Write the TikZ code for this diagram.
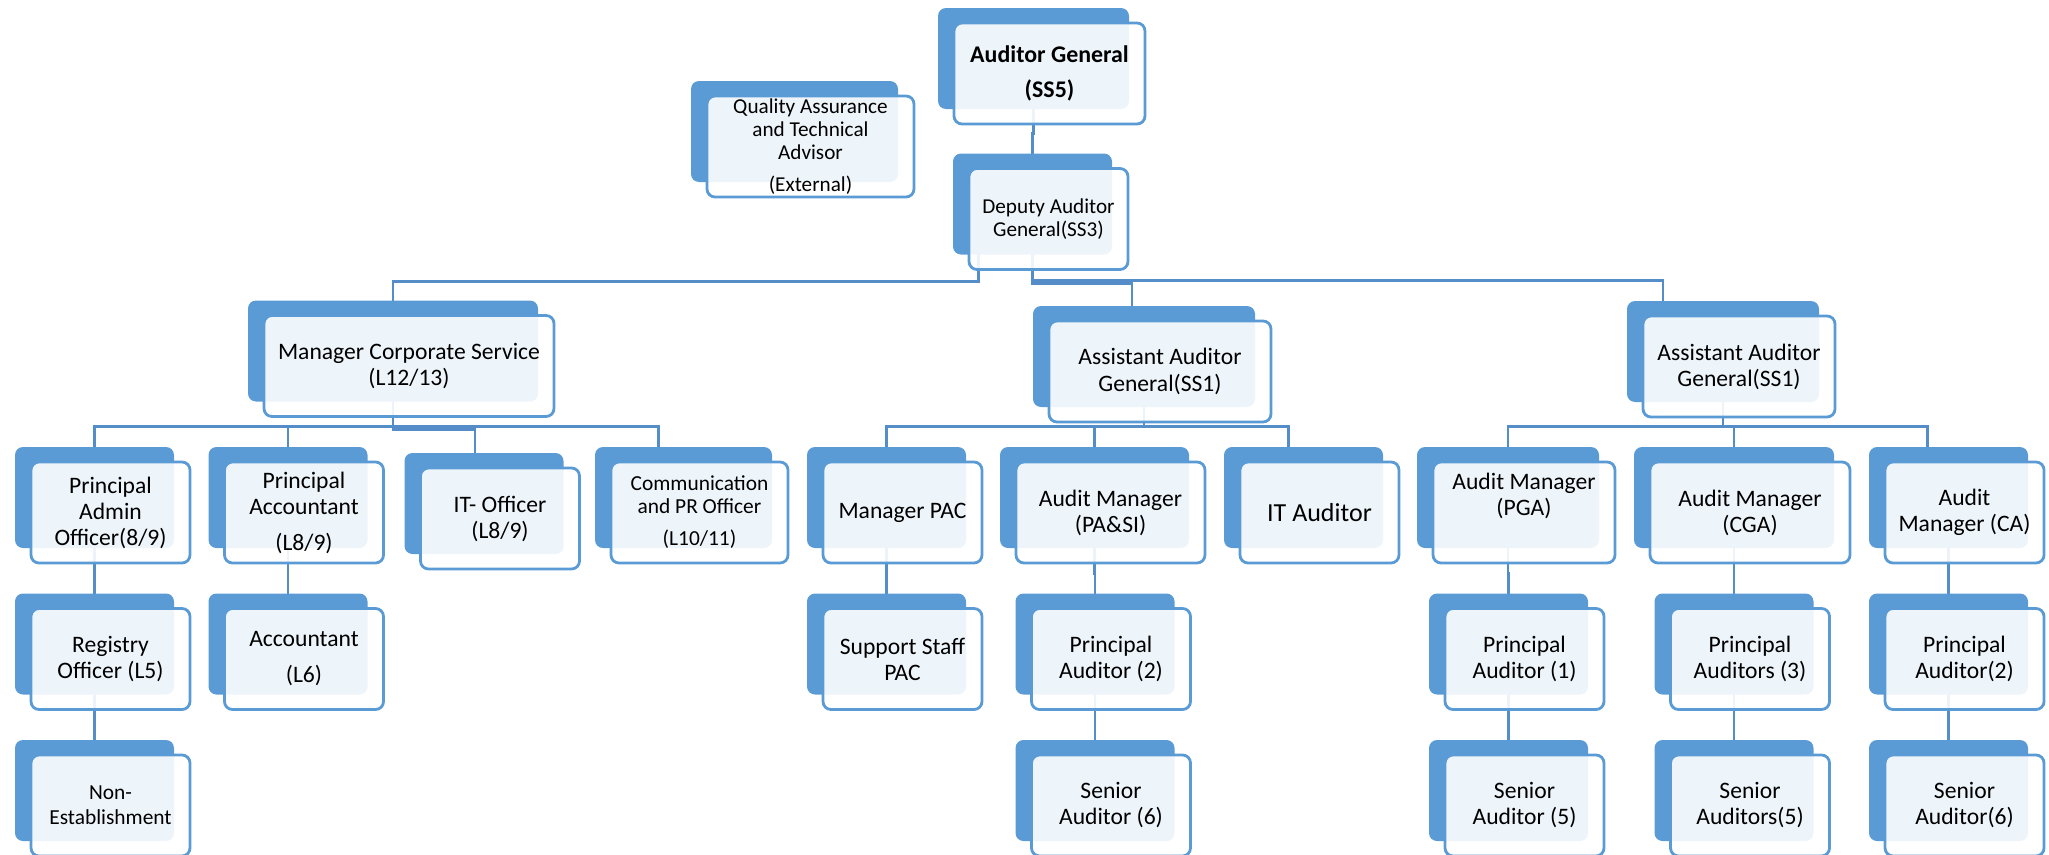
\documentclass[tikz,border=0pt]{standalone}
\usepackage{fontspec}
\setmainfont{Carlito}
\usepackage{xcolor}
\usepackage{tikz}
\usetikzlibrary{backgrounds}
\definecolor{boxblue}{RGB}{91,155,213}
\definecolor{lineblue}{RGB}{84,141,200}

\begin{document}
\begin{tikzpicture}[x=1pt, y=-1pt,
	post/.style={rectangle, rounded corners=8pt, draw=boxblue, line width=2.8pt, fill=white, fill opacity=0.9, text opacity=1, align=center, inner sep=0pt, minimum width=159pt, minimum height=101pt, font=\fontsize{23.6}{26}\selectfont, preaction={fill=boxblue, fill opacity=1, transform canvas={shift={(-16pt,15pt)}}}},
	small/.style={font=\fontsize{21.2}{23}\selectfont},
	sx/.store in=\orgsx, sx=-16,
	tx/.store in=\orgtx, tx=-16,
	orgline/.style={draw=lineblue, line width=2.8pt, to path={([shift={(\orgsx,-15)}]\tikztostart.center) |- ([shift={(\orgtx,#1)}]\tikztotarget.north) -| ([shift={(\orgtx,-15)}]\tikztotarget.center)}},
	orgline/.default=-34,
]
\useasboundingbox (0,0) rectangle (2049,854);
\node [post, minimum width=191pt, font=\fontsize{23.9}{26}\selectfont\bfseries] (ag) at (1049.5,73.5) {Auditor General\\[9pt](SS5)};
\node [post, small, minimum width=207pt] (qa) at (810.5,146.5) {Quality Assurance\\and Technical\\Advisor\\[9pt](External)};
\node [post, small] (dep) at (1048.5,219) {Deputy Auditor\\General(SS3)};
\node [post, minimum width=290pt] (mcs) at (409,366) {Manager Corporate Service\\(L12/13)};
\node [post, minimum width=222pt, font=\fontsize{23.6}{27}\selectfont] (aag1) at (1160,371.5) {Assistant Auditor\\General(SS1)};
\node [post, minimum width=192pt] (aag2) at (1739,366.5) {Assistant Auditor\\General(SS1)};
%
\node [post] (pao) at (110.5,512.5) {Principal\\Admin\\Officer(8/9)};
\node [post] (pacc) at (304,512.5) {Principal\\Accountant\\[10pt](L8/9)};
\node [post] (ito) at (500,518.5) {IT- Officer\\(L8/9)};
\node [post, minimum width=177pt, font=\fontsize{21.4}{23}\selectfont] (comm) at (699.5,512.5) {Communication\\and PR Officer\\[9pt](L10/11)};
\node [post] (mpac) at (902.5,512.5) {Manager PAC};
\node [post, minimum width=189pt] (ampa) at (1110.5,512.5) {Audit Manager\\(PA\&SI)};
\node [post, font=\fontsize{26}{28}\selectfont] (ita) at (1319.5,512.5) {IT Auditor};
\node [post, minimum width=182pt] (ampga) at (1524,512.5) {Audit Manager\\(PGA)\\[10pt]~};
\node [post, minimum width=200pt] (amcga) at (1750,512.5) {Audit Manager\\(CGA)};
\node [post] (amca) at (1964.5,512.5) {Audit\\Manager (CA)};
%
\node [post] (reg) at (110.5,659) {Registry\\Officer (L5)};
\node [post] (acc) at (304,659) {Accountant\\[10pt](L6)};
\node [post] (ssp) at (902.5,659) {Support Staff\\PAC};
\node [post] (papa) at (1111,659) {Principal\\Auditor (2)};
\node [post] (papga) at (1524.5,659) {Principal\\Auditor (1)};
\node [post] (pacga) at (1750,659) {Principal\\Auditors (3)};
\node [post] (paca) at (1964.5,659) {Principal\\Auditor(2)};
%
\node [post, font=\fontsize{21.4}{25}\selectfont] (ne) at (110.5,805.5) {Non-\\Establishment};
\node [post] (sapa) at (1111,805.5) {Senior\\Auditor (6)};
\node [post] (sapga) at (1524.5,805.5) {Senior\\Auditor (5)};
\node [post] (sacga) at (1750,805.5) {Senior\\Auditors(5)};
\node [post] (saca) at (1964.5,805.5) {Senior\\Auditor(6)};
%
\begin{scope}[on background layer]
\draw [orgline] (ag) to (dep);
\draw [orgline=-33, sx=-70] (dep) to (mcs);
\draw [orgline=-36, tx=-28] (dep) to (aag1);
\draw [orgline=-34, tx=-76] (dep) to (aag2);
\draw [orgline] (mcs) to (pao);
\draw [orgline] (mcs) to (pacc);
\draw [orgline=-37, tx=-25] (mcs) to (ito);
\draw [orgline, tx=-41] (mcs) to (comm);
\draw [orgline] (aag1) to (mpac);
\draw [orgline] (aag1) to (ampa);
\draw [orgline, tx=-31] (aag1) to (ita);
\draw [orgline] (aag2) to (ampga);
\draw [orgline] (aag2) to (amcga);
\draw [orgline, tx=-37] (aag2) to (amca);
\draw [orgline] (pao) to (reg);
\draw [orgline] (reg) to (ne);
\draw [orgline] (pacc) to (acc);
\draw [orgline] (mpac) to (ssp);
\draw [orgline] (ampa) to (papa);
\draw [orgline] (papa) to (sapa);
\draw [orgline] (ampga) to (papga);
\draw [orgline] (papga) to (sapga);
\draw [orgline] (amcga) to (pacga);
\draw [orgline] (pacga) to (sacga);
\draw [orgline] (amca) to (paca);
\draw [orgline] (paca) to (saca);
\end{scope}
\end{tikzpicture}
\end{document}
